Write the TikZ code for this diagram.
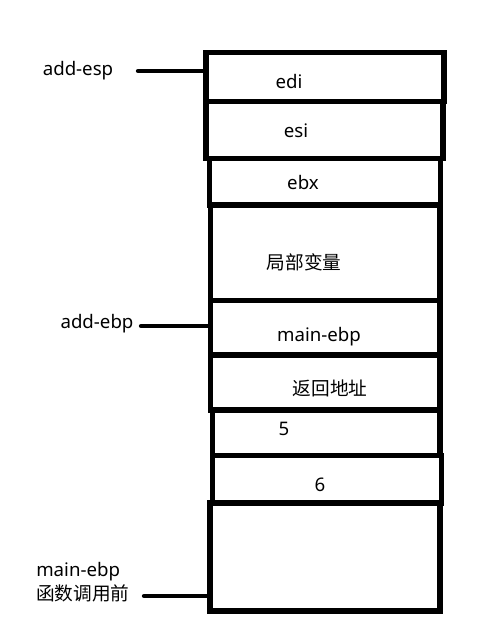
\documentclass[tikz,border=0pt]{standalone}
\usepackage{fontspec}
\setmainfont{Noto Sans}
\newfontfamily\cjk{Noto Sans CJK SC}
\usepackage{tikz}

\tikzset{
  cell/.style={draw, line width=3.8pt, inner sep=0pt},
  txt/.style={inner sep=0pt, anchor=base, font=\fontsize{14pt}{18.75pt}\selectfont},
  wire/.style={line width=3.2pt, line cap=round}
}

\begin{document}
\begin{tikzpicture}[x=0.75pt, y=-0.75pt]
    \useasboundingbox (0,0) rectangle (476,625);
    % stack cells
    \node[cell, minimum width=178.5pt, minimum height=36.75pt]   (edi)  at (325.00, 77.00) {};
    \node[cell, minimum width=177.75pt, minimum height=42.75pt]  (esi)  at (324.50, 130.00) {};
    \node[cell, minimum width=173.25pt, minimum height=34.875pt] (ebx)  at (325.00, 181.75) {};
    \node[cell, minimum width=172.1pt, minimum height=71.6pt]    (loc)  at (325.25, 252.75) {};
    \node[cell, minimum width=172.1pt, minimum height=40.9pt]    (mebp) at (325.25, 327.75) {};
    \node[cell, minimum width=172.1pt, minimum height=41.25pt]   (ret)  at (325.25, 382.50) {};
    \node[cell, minimum width=170.6pt, minimum height=34.1pt]    (five) at (326.25, 432.75) {};
    \node[cell, minimum width=171.75pt, minimum height=35.6pt]   (six)  at (327.00, 479.25) {};
    \node[cell, minimum width=172.5pt, minimum height=81pt]      (base) at (325.00, 557.00) {};
    % cell texts
    \node[txt] (edit)  at (289, 88)  {edi};
    \node[txt] (esit)  at (296, 137) {esi};
    \node[txt] (ebxt)  at (303, 189) {ebx};
    \node[txt] (loct)  at (304, 269) {\cjk 局部变量};
    \node[txt] (mebpt) at (319, 341) {main-ebp};
    \node[txt] (rett)  at (330, 395) {\cjk 返回地址};
    \node[txt] (fivet) at (284, 435) {5};
    \node[txt] (sixt)  at (320, 491) {6};
    % pointer labels
    \node[txt] (esp)  at (78, 75)   {add-esp};
    \node[txt] (ebp)  at (97, 328)  {add-ebp};
    \node[txt, anchor=base west] (old) at (36, 576) {main-ebp};
    \node[txt, anchor=base west] (oldc) at (36, 600) {\cjk 函数调用前};
    \coordinate (espx) at (138, 71);
    \coordinate (ebpx) at (141, 326);
    \coordinate (oldx) at (144, 596);
    \draw [wire] (espx) -- (edi.west |- espx);
    \draw [wire] (ebpx) -- (mebp.west |- ebpx);
    \draw [wire] (oldx) -- (base.west |- oldx);
\end{tikzpicture}
\end{document}
